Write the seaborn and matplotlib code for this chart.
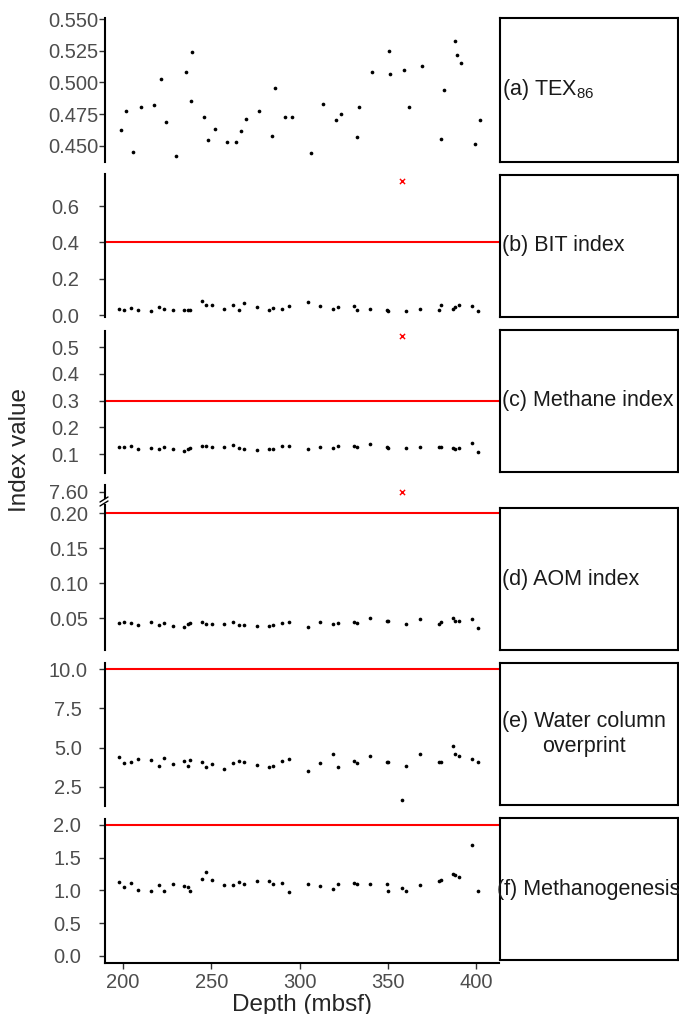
import pandas as pd
import seaborn as sns
import matplotlib.pyplot as plt

# sample depths (mbsf)
depth = [197.5, 200.4, 204.5, 208.7, 216.1, 220.4, 223.3, 228.5, 234.6, 236.9,
         238.0, 244.8, 246.7, 250.5, 257.3, 262.4, 265.4, 268.2, 275.8, 282.8,
         284.9, 290.2, 294.1, 304.9, 311.7, 319.1, 321.9, 331.0, 332.5, 339.9,
         349.5, 350.0, 358.0, 360.3, 367.9, 378.6, 380.2, 386.6, 387.7, 390.0,
         397.7, 400.8]

tex86 = [0.4626, 0.4774, 0.445, 0.4803, 0.4821, 0.5024, 0.4684, 0.4421, 0.5084, 0.4853,
         0.5242, 0.4726, 0.4542, 0.4634, 0.4532, 0.4532, 0.4616, 0.4711, 0.4774, 0.4576,
         0.4955, 0.4726, 0.4729, 0.4439, 0.4829, 0.4703, 0.4747, 0.4568, 0.4808, 0.5084,
         0.5245, 0.5066, 0.5097, 0.4808, 0.5129, 0.4553, 0.4939, 0.5324, 0.5221, 0.5155,
         0.4513, 0.470]

bit = [0.035, 0.031, 0.040, 0.031, 0.026, 0.046, 0.037, 0.029, 0.029, 0.027,
       0.027, 0.080, 0.057, 0.059, 0.033, 0.055, 0.029, 0.068, 0.044, 0.027,
       0.038, 0.035, 0.053, 0.075, 0.051, 0.033, 0.044, 0.053, 0.027, 0.037,
       0.029, 0.022, 0.739, 0.026, 0.033, 0.029, 0.055, 0.033, 0.046, 0.055,
       0.049, 0.024]

methane = [0.1275, 0.1275, 0.129, 0.119, 0.124, 0.1175, 0.125, 0.1175, 0.111, 0.120,
           0.1225, 0.130, 0.130, 0.1275, 0.126, 0.134, 0.121, 0.1175, 0.116, 0.119,
           0.119, 0.129, 0.130, 0.120, 0.1275, 0.1225, 0.130, 0.129, 0.1275, 0.1375,
           0.126, 0.124, 0.544, 0.121, 0.1275, 0.1275, 0.1275, 0.1225, 0.120, 0.1225,
           0.1425, 0.109]

aom = [0.0429, 0.0448, 0.0433, 0.0410, 0.0443, 0.0405, 0.0433, 0.0390, 0.0371, 0.0414,
       0.0429, 0.0452, 0.0419, 0.0419, 0.0414, 0.0452, 0.0405, 0.0400, 0.0386, 0.0386,
       0.0400, 0.0429, 0.0448, 0.0371, 0.0443, 0.0424, 0.0433, 0.0448, 0.0433, 0.0500,
       0.0467, 0.0462, 7.60, 0.0424, 0.0486, 0.0424, 0.0452, 0.0500, 0.0467, 0.0462,
       0.0490, 0.0357]

wco = [4.375, 4.013, 4.077, 4.247, 4.183, 3.842, 4.311, 3.970, 4.120, 3.842,
       4.183, 4.077, 3.757, 3.970, 3.650, 4.013, 4.120, 4.056, 3.885, 3.757,
       3.842, 4.162, 4.247, 3.500, 4.013, 4.610, 3.736, 4.120, 4.034, 4.460,
       4.077, 4.050, 1.648, 3.842, 4.610, 4.098, 4.098, 5.120, 4.610, 4.460,
       4.247, 4.098]

methanogenesis = [1.133, 1.056, 1.117, 1.000, 0.990, 1.087, 0.985, 1.097, 1.061, 1.056,
                  0.985, 1.173, 1.280, 1.163, 1.077, 1.077, 1.122, 1.092, 1.148, 1.143,
                  1.102, 1.117, 0.969, 1.097, 1.061, 1.026, 1.102, 1.112, 1.092, 1.092,
                  1.092, 0.985, 1.030, 0.995, 1.082, 1.148, 1.163, 1.245, 1.235, 1.204,
                  1.694, 0.990]

# sample flagged in panels b-d (drawn as red cross)
flagged = [i == 32 for i in range(len(depth))]

thresholds = {'bit': 0.4, 'methane': 0.3, 'aom': 0.2, 'wco': 10.0, 'methanogenesis': 2.0}
strip_labels = ['(a) TEX$_{86}$', '(b) BIT index', '(c) Methane index', '(d) AOM index',
                '(e) Water column\noverprint', '(f) Methanogenesis']

df = pd.DataFrame({'depth': depth, 'tex86': tex86, 'bit': bit, 'methane': methane,
                   'aom': aom, 'wco': wco, 'methanogenesis': methanogenesis,
                   'flag': flagged})

sns.set_style('white')
plt.rcParams['font.family'] = ['Liberation Sans', 'DejaVu Sans']
plt.rcParams['mathtext.fontset'] = 'custom'
plt.rcParams['mathtext.rm'] = 'Liberation Sans'

W, H = 679, 1014
fig = plt.figure(figsize=(W / 100, H / 100), dpi=100)


def rect(x0, y0, x1, y1):
    return [x0 / W, 1 - y1 / H, (x1 - x0) / W, (y1 - y0) / H]


def style(ax, ylim, ticks, fmt, pad_px, xlim=(189.8, 412.8), bottom=False):
    ax.set_xlim(*xlim)
    ax.set_ylim(*ylim)
    ax.set_yticks(ticks)
    ax.set_yticklabels([fmt % t for t in ticks])
    for s in ['top', 'right']:
        ax.spines[s].set_visible(False)
    ax.spines['left'].set_linewidth(1.5)
    ax.spines['left'].set_color('black')
    ax.tick_params(axis='y', length=4.3, width=1, color='#333333', labelcolor='#4D4D4D',
                   labelsize=14.5, pad=pad_px * 0.72, left=True)
    plt.setp(ax.get_yticklabels(), ha='center')
    ax.set_ylabel('')
    if bottom:
        ax.spines['bottom'].set_linewidth(1.5)
        ax.spines['bottom'].set_color('black')
        ax.tick_params(axis='x', length=4.3, width=1, color='#333333', labelcolor='#4D4D4D',
                       labelsize=14.5, pad=3, bottom=True)
        ax.set_xticks([200, 250, 300, 350, 400])
        ax.set_xlabel('Depth (mbsf)', fontsize=17.5, labelpad=1)
    else:
        ax.spines['bottom'].set_visible(False)
        ax.set_xticks([])
        ax.set_xlabel('')


def points(ax, col, data):
    sns.scatterplot(data=data, x='depth', y=col, ax=ax, color='black', s=7,
                    linewidth=0, legend=False)


def crosses(ax, col, data):
    sns.scatterplot(data=data, x='depth', y=col, ax=ax, color='red', marker='x', s=14,
                    linewidth=1, legend=False)


normal = df[~df['flag']]
flag = df[df['flag']]

# (a) TEX86
ax_a = fig.add_axes(rect(105, 18, 499, 162))
points(ax_a, 'tex86', df)
style(ax_a, (0.437, 0.551), [0.450, 0.475, 0.500, 0.525, 0.550], '%.3f', 26,
      xlim=(188.5, 411.5))

# (b) BIT
ax_b = fig.add_axes(rect(105, 174, 499, 317))
ax_b.axhline(thresholds['bit'], color='red', lw=1.5)
points(ax_b, 'bit', normal)
crosses(ax_b, 'bit', flag)
style(ax_b, (-0.009, 0.776), [0.0, 0.2, 0.4, 0.6], '%.1f', 33.7)

# (c) Methane index
ax_c = fig.add_axes(rect(105, 331, 499, 473))
ax_c.axhline(thresholds['methane'], color='red', lw=1.5)
points(ax_c, 'methane', normal)
crosses(ax_c, 'methane', flag)
style(ax_c, (0.029, 0.561), [0.1, 0.2, 0.3, 0.4, 0.5], '%.1f', 33.7)

# (d) AOM index, broken axis
ax_d_top = fig.add_axes(rect(105, 485, 499, 498))
crosses(ax_d_top, 'aom', flag)
style(ax_d_top, (7.55, 7.65), [7.60], '%.2f', 30.7)

ax_d = fig.add_axes(rect(105, 505, 499, 650))
ax_d.axhline(thresholds['aom'], color='red', lw=1.5)
points(ax_d, 'aom', normal)
style(ax_d, (0.0047, 0.212), [0.05, 0.10, 0.15, 0.20], '%.2f', 30.7)
for dy in (0.0, 4.0):
    ax_d.plot([-5 / 394, 3 / 394], [(dy - 1) / 145 + 1, (dy + 4) / 145 + 1],
              transform=ax_d.transAxes, color='black', lw=1, clip_on=False)

# (e) Water column overprint
ax_e = fig.add_axes(rect(105, 663, 499, 806))
ax_e.axhline(thresholds['wco'], color='red', lw=1.5)
points(ax_e, 'wco', df)
style(ax_e, (1.27, 10.4), [2.5, 5.0, 7.5, 10.0], '%.1f', 30.7)

# (f) Methanogenesis
ax_f = fig.add_axes(rect(105, 819, 499, 963))
ax_f.axhline(thresholds['methanogenesis'], color='red', lw=1.5)
points(ax_f, 'methanogenesis', df)
style(ax_f, (-0.11, 2.09), [0.0, 0.5, 1.0, 1.5, 2.0], '%.1f', 31.7, bottom=True)

# strip boxes on the right
boxes = [(18, 162), (175, 317), (330, 472), (508, 650), (663, 805), (818, 960)]
text_x = [502, 502, 502, 502, 502, 497]
for (y0, y1), lab, tx in zip(boxes, strip_labels, text_x):
    sax = fig.add_axes(rect(500, y0, 678, y1))
    sax.set_xticks([])
    sax.set_yticks([])
    for s in sax.spines.values():
        s.set_visible(True)
        s.set_linewidth(1.5)
        s.set_color('black')
    sax.text((tx - 500) / 178, 0.5, lab, transform=sax.transAxes, ha='left', va='center',
             fontsize=15.5, color='#1A1A1A', multialignment='center', clip_on=False)

fig.text(20 / W, 1 - 450 / H, 'Index value', rotation=90, ha='center', va='center',
         fontsize=17.5)

fig.savefig('out.png', dpi=100)
